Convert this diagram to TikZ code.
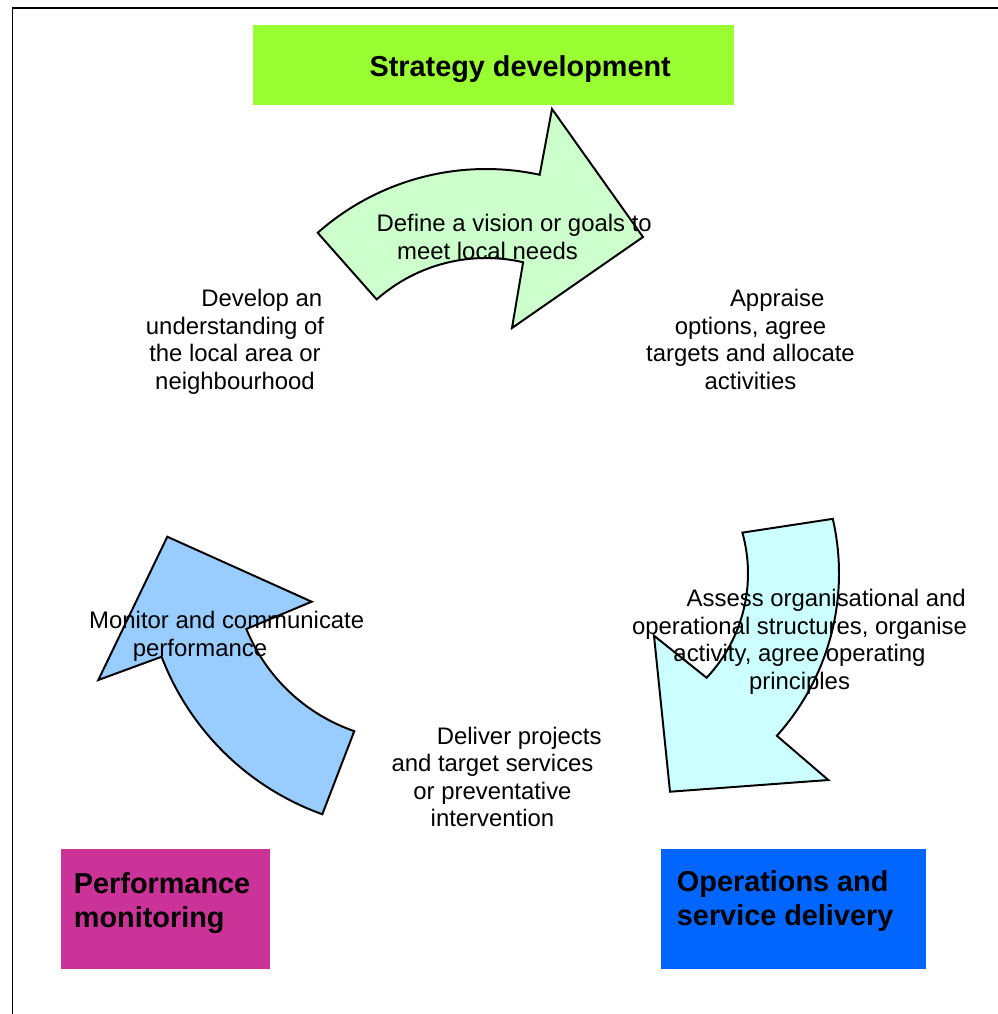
\documentclass[tikz,border=0pt]{standalone}
\usepackage{fontspec}
\setmainfont{Liberation Sans}
\usetikzlibrary{calc}

\definecolor{stratgreen}{RGB}{153,255,51}
\definecolor{monpink}{RGB}{204,51,153}
\definecolor{opsblue}{RGB}{0,102,255}
\definecolor{visionfill}{RGB}{204,255,204}
\definecolor{assessfill}{RGB}{204,255,255}
\definecolor{monitorfill}{RGB}{153,204,255}

% first line of every label is indented
\newcommand\lead{\hspace*{38pt}}

\begin{document}
\begin{tikzpicture}
[ x=0.025cm, y=0.025cm
, stage/.style={rectangle, inner sep=0pt, font=\fontsize{20.5}{23.6}\selectfont\bfseries}
, note/.style={inner sep=0pt, align=center, font=\fontsize{17}{19.6}\selectfont}
, band/.style={draw=black, line width=1.4pt}
]
\useasboundingbox (0,0) rectangle (998,-1014);
% frame: only its top and left edges lie on the page
\draw [line width=1.4pt] (12.5,-1014) -- (12.5,-8.3) -- (998,-8.3);

% centres of the curved arrows
\coordinate (vc) at (486,-423);
\coordinate (ac) at (596,-573.5);
\coordinate (mc) at (413,-561);

% Top arrow:
\draw [band, fill=visionfill] ($(vc)+(131.5:254)$) arc [start angle=131.5, end angle=77.8, radius=254]
  -- (552,-109) -- (643,-237) -- (512,-328)
  -- ($(vc)+(77:165)$) arc [start angle=77, end angle=131.5, radius=165] -- cycle;
% Right arrow:
\draw [band, fill=assessfill] ($(ac)+(13:243)$) arc [start angle=13, end angle=-41.9, radius=243]
  -- (828.3,-780) -- (670,-791.7) -- (654,-635.7)
  -- ($(ac)+(-43.3:152)$) arc [start angle=-43.3, end angle=15.6, radius=152] -- cycle;
% Left arrow:
\draw [band, fill=monitorfill] ($(mc)+(-109.7:269)$) arc [start angle=-109.7, end angle=-159.15, radius=269]
  -- (98.3,-680) -- (167.3,-536.7) -- (311.7,-601.7)
  -- ($(mc)+(-157.8:180)$) arc [start angle=-157.8, end angle=-109.05, radius=180] -- cycle;

% Stage boxes:
\node (strategy) [stage, fill=stratgreen, minimum width=12.025cm, minimum height=2cm, text height=20.5pt, text depth=4.5pt] at (493.5,-65) {\lead Strategy development};
\node (monbox) [stage, fill=monpink, minimum width=5.225cm, minimum height=3cm] at (165.5,-909) {};
\node (opsbox) [stage, fill=opsblue, minimum width=6.625cm, minimum height=3cm] at (793.5,-909) {};
\node (montext) [stage, anchor=north west, align=left] at ([shift={(13,-24)}]monbox.north west) {Performance\\monitoring};
\node (opstext) [stage, anchor=north west, align=left] at ([shift={(16,-22)}]opsbox.north west) {Operations and\\service delivery};

% Step labels:
\node (vision) [note] at (487.5,-237) {\lead Define a vision or goals to\\meet local needs};
\node (understand) [note] at (235,-342) {\lead Develop an\\understanding of\\the local area or\\neighbourhood};
\node (appraise) [note] at (750.5,-339.5) {\lead Appraise\\options, agree\\targets and allocate\\activities};
\node (assess) [note] at (799.5,-642) {\lead Assess organisational and\\operational structures, organise\\activity, agree operating\\principles};
\node (deliver) [note] at (492.5,-777) {\lead Deliver projects\\and target services\\or preventative\\intervention};
\node (monitor) [note] at (200,-636.5) {\lead Monitor and communicate\\performance};
\end{tikzpicture}
\end{document}
